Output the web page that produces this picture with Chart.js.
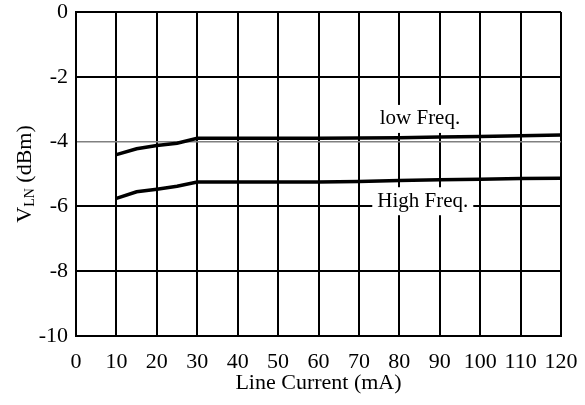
<!DOCTYPE html>
<html>
<head>
<meta charset="utf-8">
<script src="https://cdn.jsdelivr.net/npm/chart.js@4"></script>
<style>
  html, body { margin: 0; padding: 0; background: #ffffff; }
  #wrap { width: 585px; height: 405px; }
</style>
</head>
<body>
<div id="wrap"><canvas id="vlnChart"></canvas></div>
<script>
// line current (mA)
const current = [10, 15, 20, 25, 30, 40, 50, 60, 70, 80, 90, 100, 110, 120]
const lowFreq = [-4.4, -4.22, -4.12, -4.05, -3.9, -3.9, -3.9, -3.9, -3.89, -3.88, -3.86, -3.84, -3.82, -3.8]
const highFreq = [-5.75, -5.55, -5.47, -5.38, -5.25, -5.25, -5.25, -5.25, -5.23, -5.2, -5.18, -5.16, -5.14, -5.13]
const seriesLabels = ['low Freq.', 'High Freq.']
// where the curve names sit (data units)
const labelSpots = [{ x: 85.1, y: -3.3 }, { x: 85.8, y: -5.84 }]

const FONT = 'Liberation Serif, Times New Roman, serif'

const toPoints = (ys) => current.map((x, i) => ({ x, y: ys[i] }))

// white boxed curve names, over the grid but under the curves
const curveNames = {
  id: 'curveNames',
  beforeDatasetsDraw (chart) {
    const { ctx, scales: { x, y } } = chart
    ctx.save()
    ctx.font = '21px ' + FONT
    ctx.textAlign = 'center'
    ctx.textBaseline = 'middle'
    seriesLabels.forEach((txt, i) => {
      const px = x.getPixelForValue(labelSpots[i].x)
      const py = y.getPixelForValue(labelSpots[i].y)
      const w = ctx.measureText(txt).width + 10
      ctx.fillStyle = '#ffffff'
      ctx.fillRect(px - w / 2, py - 14, w, 28)
      ctx.fillStyle = '#000000'
      ctx.fillText(txt, px, py)
    })
    ctx.restore()
  }
}

// rotated y title with subscript
const yTitle = {
  id: 'yTitle',
  afterDraw (chart) {
    const { ctx, chartArea } = chart
    ctx.save()
    ctx.translate(23, (chartArea.top + chartArea.bottom) / 2)
    ctx.rotate(-Math.PI / 2)
    ctx.fillStyle = '#000000'
    ctx.textBaseline = 'alphabetic'
    const big = '22px ' + FONT
    const small = '14px ' + FONT
    ctx.font = big
    const wV = ctx.measureText('V').width
    const rest = ' (dBm)'
    const wRest = ctx.measureText(rest).width
    ctx.font = small
    const wSub = ctx.measureText('LN').width
    let cx = -(wV + wSub + wRest) / 2
    ctx.font = big
    ctx.fillText('V', cx, 8)
    cx += wV
    ctx.font = small
    ctx.fillText('LN', cx, 11)
    cx += wSub
    ctx.font = big
    ctx.fillText(rest, cx, 8)
    ctx.restore()
  }
}

new Chart(document.getElementById('vlnChart'), {
  type: 'line',
  plugins: [curveNames, yTitle],
  data: {
    datasets: [
      {
        label: seriesLabels[0],
        data: toPoints(lowFreq),
        borderColor: '#000000',
        borderWidth: 3.5,
        pointRadius: 0,
        tension: 0
      },
      {
        label: seriesLabels[1],
        data: toPoints(highFreq),
        borderColor: '#000000',
        borderWidth: 3.5,
        pointRadius: 0,
        tension: 0
      }
    ]
  },
  options: {
    responsive: true,
    maintainAspectRatio: false,
    animation: false,
    layout: { padding: { top: 12, right: 24, left: 0, bottom: 0 } },
    plugins: { legend: { display: false }, tooltip: { enabled: false } },
    scales: {
      x: {
        type: 'linear',
        min: 0,
        max: 120,
        ticks: { stepSize: 10, color: '#000000', padding: 13, maxRotation: 0, autoSkip: false, font: { family: FONT, size: 22 } },
        grid: { color: '#000000', lineWidth: 2, drawTicks: false },
        border: { color: '#000000', width: 2 },
        title: {
          display: true,
          text: 'Line Current (mA)',
          color: '#000000',
          font: { family: FONT, size: 22 },
          padding: { top: 0, bottom: 9 }
        },
        afterFit (scale) {
          scale.height = 69
          scale.paddingLeft = 0
          scale.paddingRight = 0
        }
      },
      y: {
        min: -10,
        max: 0,
        ticks: { stepSize: 2, color: '#000000', padding: 8, font: { family: FONT, size: 22 } },
        grid: {
          color: (c) => (c.tick && c.tick.value === -4 ? '#808080' : '#000000'),
          lineWidth: (c) => (c.tick && c.tick.value === -4 ? 1.5 : 2),
          drawTicks: false
        },
        border: { color: '#000000', width: 2 },
        afterFit (scale) {
          scale.width = 76
          scale.paddingTop = 0
          scale.paddingBottom = 0
        }
      }
    }
  }
})
</script>
</body>
</html>
